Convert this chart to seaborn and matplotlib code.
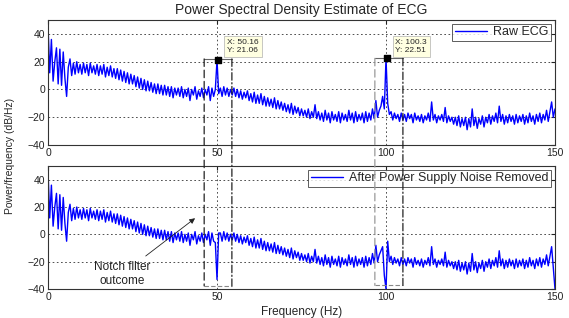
import numpy as np
import pandas as pd
import seaborn as sns
import matplotlib.pyplot as plt
from matplotlib.patches import ConnectionPatch

# PSD of the raw ECG, every 0.5 Hz (dB/Hz)
raw_psd = [
    46, 12, 36, 6, 20, 30, 4, 29, 3, 27,
    8, -5, 16, 22, 10, 19, 11, 20, 12, 18,
    11, 19, 12, 18, 10, 19, 12, 17, 11, 18,
    10, 17, 11, 18, 9, 16, 10, 17, 9, 15,
    8, 15, 7, 14, 6, 13, 5, 12, 4, 11,
    4, 10, 2, 9, 1, 8, 0, 7, -1, 6,
    -1, 5, -2, 4, -3, 4, -3, 3, -4, 3,
    -4, 2, -5, 2, -6, 1, -4, 1, -5, 2,
    -6, 0, -5, 1, -8, 0, -4, 2, -7, -1,
    -5, 1, -6, 0, -4, 2, -8, 1, -5, 0,
    21.06, -3, 1, -5, 2, -4, 1, -5, 0, -4,
    1, -5, 0, -6, -1, -7, -2, -6, -1, -8,
    -3, -9, -2, -10, -4, -10, -3, -11, -5, -12,
    -6, -12, -7, -13, -6, -14, -8, -14, -9, -15,
    -10, -16, -11, -17, -10, -18, -12, -17, -13, -19,
    -14, -19, -15, -20, -14, -21, -16, -20, -11, -21,
    -16, -22, -17, -23, -15, -22, -17, -24, -16, -22,
    -18, -23, -16, -24, -17, -22, -18, -23, -15, -22,
    -17, -24, -16, -23, -18, -22, -17, -24, -16, -23,
    -17, -22, -14, -21, -8, -20, -15, -12, -5, -14,
    22.51, -10, -18, -16, -22, -17, -21, -18, -23, -17,
    -22, -18, -23, -17, -21, -18, -24, -17, -22, -19,
    -23, -18, -24, -19, -22, -17, -23, -9, -22, -18,
    -24, -19, -22, -18, -23, -13, -24, -19, -23, -20,
    -25, -20, -26, -19, -27, -21, -26, -20, -29, -21,
    -27, -14, -26, -20, -28, -21, -25, -19, -27, -20,
    -24, -18, -25, -19, -23, -17, -24, -12, -23, -18,
    -25, -19, -24, -18, -23, -19, -25, -18, -24, -19,
    -23, -18, -25, -19, -24, -17, -23, -19, -25, -18,
    -23, -17, -24, -18, -22, -15, -23, -16, -9, -20,
    -14,
]
freq = np.linspace(0, 150, len(raw_psd))

# points that change after the notch filters
notch_freq = [49.5, 50.0, 50.5, 99.0, 99.5, 100.0, 100.5, 101.0, 149.5, 150.0]
notch_psd = [-6, -33, 1, -9, -30, -40, -5, -20, -25, -40]

# data tips
tip_x = [50.16, 100.3]
tip_y = [21.06, 22.51]
tip_text = ['X: 50.16\nY: 21.06', 'X: 100.3\nY: 22.51']

filtered_psd = list(raw_psd)
for f, v in zip(notch_freq, notch_psd):
    filtered_psd[int(round(f * 2))] = v

df = pd.DataFrame({'freq': freq, 'raw': raw_psd, 'filtered': filtered_psd})

sns.set_style('white')
plt.rcParams['font.family'] = ['Liberation Sans', 'DejaVu Sans']

fig = plt.figure(figsize=(5.69, 3.18), dpi=100)
ax1 = fig.add_axes([0.0844, 0.544, 0.891, 0.393])
ax2 = fig.add_axes([0.0844, 0.091, 0.891, 0.387])

sns.lineplot(data=df, x='freq', y='raw', ax=ax1, color='#0000ff', lw=1.0, label='Raw ECG')
sns.lineplot(data=df, x='freq', y='filtered', ax=ax2, color='#0000ff', lw=1.0,
             label='After Power Supply Noise Removed')

for ax in (ax1, ax2):
    ax.set_xlim(0, 150)
    ax.set_ylim(-40, 50)
    ax.set_xticks([0, 50, 100, 150])
    ax.set_yticks([-40, -20, 0, 20, 40])
    ax.set_xlabel('')
    ax.set_ylabel('')
    ax.grid(True, color='#333333', ls=(0, (2, 3)), lw=0.6)
    ax.tick_params(direction='in', length=3, top=True, right=True, labelsize=7.5,
                   pad=2, colors='#222222')
    for s in ax.spines.values():
        s.set_color('#333333')
        s.set_linewidth(0.8)
    leg = ax.legend(loc='upper right', fontsize=9, handlelength=2.6, frameon=True,
                    fancybox=False, borderpad=0.2, borderaxespad=0.3, handletextpad=0.5)
    leg.get_frame().set_edgecolor('#333333')
    leg.get_frame().set_linewidth(0.7)

ax1.set_title('Power Spectral Density Estimate of ECG', fontsize=10, pad=4)
ax2.set_xlabel('Frequency (Hz)', fontsize=8.5, labelpad=3)
fig.text(0.018, 0.51, 'Power/frequency (dB/Hz)', rotation=90, fontsize=7.5,
         ha='center', va='center')

# data tips on the raw spectrum
ax1.scatter(tip_x, tip_y, marker='s', s=18, color='black', zorder=5)
for tx, txt in zip([53.0, 102.8], tip_text):
    ax1.text(tx, 31, txt, fontsize=6, va='center', ha='left', linespacing=1.3,
             bbox=dict(boxstyle='square,pad=0.35', fc='#ffffe1', ec='#b0b0b0', lw=0.5),
             zorder=6)

# dashed boxes spanning both panels
boxes = [(46.2, 54.4, 22.0, -37.7, ('#222222', (0, (6, 3))), ('#222222', (0, (6, 2, 1, 2)))),
         (96.7, 105.0, 22.4, -37.3, ('#999999', (0, (6, 3))), ('#222222', (0, (6, 2, 1, 2))))]
for x0, x1, top, bottom, left_style, right_style in boxes:
    for x, (c, ls) in ((x0, left_style), (x1, right_style)):
        cp = ConnectionPatch(xyA=(x, top), coordsA=ax1.transData,
                             xyB=(x, bottom), coordsB=ax2.transData,
                             color=c, ls=ls, lw=0.9, zorder=7)
        fig.add_artist(cp)
    ax1.plot([x0, x1], [top, top], color='#666666', lw=0.8, zorder=4, clip_on=False)
    ax2.plot([x0, x1], [bottom, bottom], color='#888888', lw=0.8, ls=(0, (4, 2)),
             zorder=4, clip_on=False)

ax2.annotate('Notch filter\noutcome', xy=(43.5, 11.8), xytext=(22, -28.9),
             fontsize=8.5, ha='center', va='center', color='#222222',
             arrowprops=dict(arrowstyle='-|>', color='#222222', lw=0.6,
                             mutation_scale=8, shrinkA=2, shrinkB=0))

plt.savefig('out.png', dpi=100)
